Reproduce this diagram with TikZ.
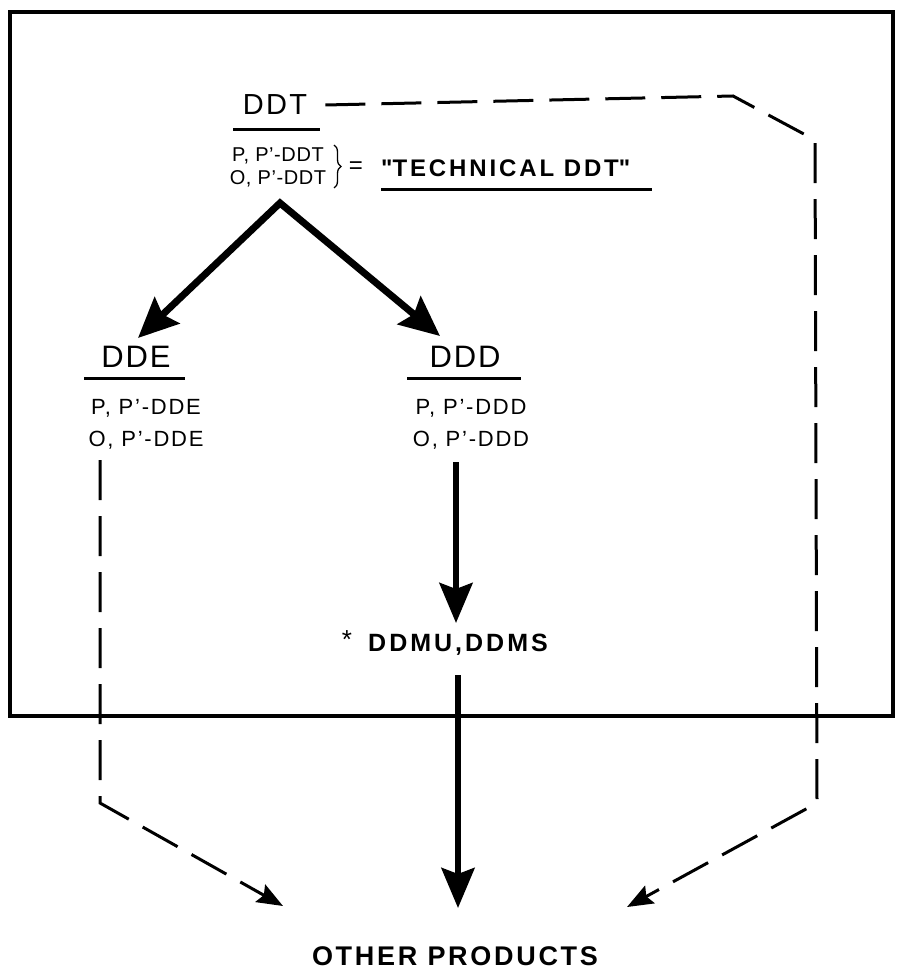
\documentclass[tikz,border=0pt]{standalone}
\usepackage{fontspec}
\setmainfont{Liberation Sans}
\usetikzlibrary{arrows.meta,decorations.pathreplacing}
\newcommand{\lsfont}[3]{\fontsize{#1}{#2}\selectfont\addfontfeatures{LetterSpace=#3}}

\begin{document}
\begin{tikzpicture}[x=1pt,y=-1pt,inner sep=0pt,
  bigv/.style={line width=7pt,line join=miter,{Stealth[length=40pt,width=36pt,inset=6pt]}-{Stealth[length=40pt,width=36pt,inset=6pt]}},
  bigdown/.style={line width=6pt,-{Stealth[length=40pt,width=33pt,inset=6pt]}},
  dashline/.style={line width=3pt,line join=miter,dash pattern=on 40pt off 16pt,-{Stealth[length=26pt,width=20pt,inset=4pt]}},
  uline/.style={line width=3pt}]
\useasboundingbox (0,0) rectangle (897,973);
\draw[line width=4.5pt] (10,12) rectangle (893,716);
% labels
\node[font={\lsfont{29}{29}{8}}] (ddt) at (275,105) {DDT};
\draw[uline] (233,130)--(320,130);
\node[font={\lsfont{20}{23}{3}},align=center] (ddtlist) at (278,167) {P, P'-DDT\\O, P'-DDT};
\draw[decorate,decoration={brace,amplitude=7pt},line width=1.3pt] (334,145)--(334,188);
\node[font={\lsfont{24}{24}{0}}] (eq) at (356,168) {=};
\node[font={\bfseries\lsfont{24}{24}{12}},anchor=west] (tech) at (381,168) {\textquotedbl TECHNICAL DDT\textquotedbl};
\draw[uline] (381,190)--(652,190);
\node[font={\lsfont{31}{31}{6}}] (dde) at (136,357) {DDE};
\draw[uline] (84,378)--(185,378);
\node[font={\lsfont{22}{32}{8}},align=center] (ddelist) at (146,424) {P, P'-DDE\\O, P'-DDE};
\node[font={\lsfont{31}{31}{6}}] (ddd) at (465,357) {DDD};
\draw[uline] (407,378)--(521,378);
\node[font={\lsfont{22}{32}{8}},align=center] (dddlist) at (471,424) {P, P'-DDD\\O, P'-DDD};
\node[font={\bfseries\lsfont{25}{25}{12}}] (ddmu) at (458,645) {DDMU,DDMS};
\node[font={\lsfont{26}{26}{0}}] (star) at (347,640) {*};
\node[font={\bfseries\lsfont{27}{27}{10}}] (other) at (455,956) {OTHER PRODUCTS};
% connectors
\coordinate (apex) at (280,203);
\coordinate (tipL) at (138,338);
\coordinate (tipR) at (440,336);
\draw[bigv] (tipL)--(apex)--(tipR);
\coordinate (d1) at (456,462);
\coordinate (d2) at (456,623);
\draw[bigdown] (d1)--(d2);
\coordinate (m1) at (458,675);
\coordinate (m2) at (458,908);
\draw[bigdown] (m1)--(m2);
\draw[dashline] (100,460)--(100,803)--(283,906);
\draw[dashline] ([xshift=18pt]ddt.east)--(733,96)--(815,140)--(817,803)--(627,907);
\end{tikzpicture}
\end{document}
